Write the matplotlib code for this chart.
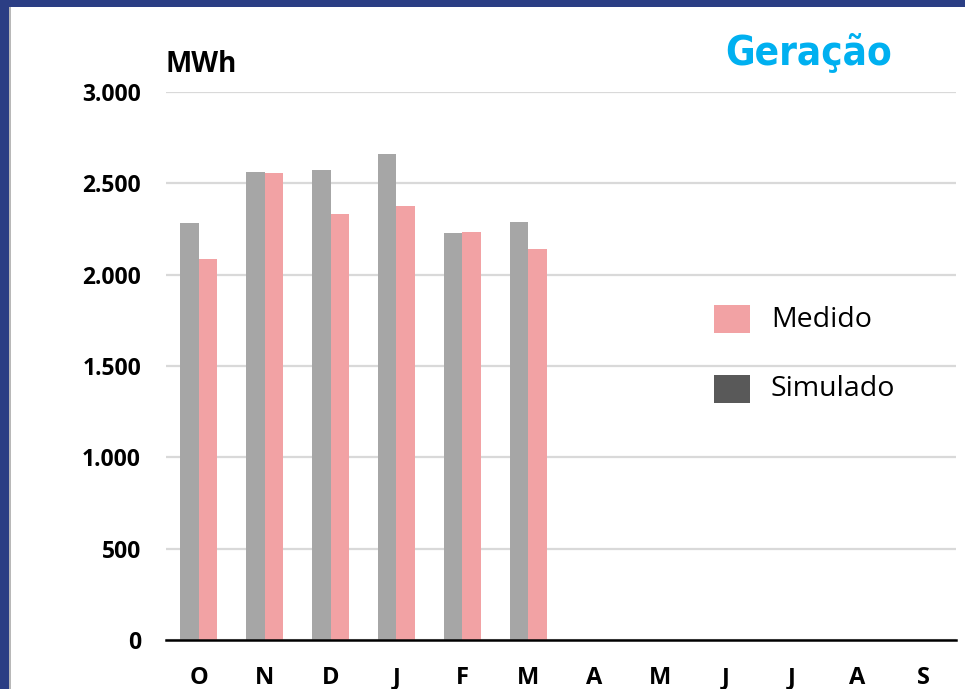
import matplotlib
matplotlib.use("Agg")
import matplotlib.pyplot as plt
from matplotlib.patches import Rectangle
import numpy as np

months = ["O", "N", "D", "J", "F", "M", "A", "M", "J", "J", "A", "S"]
simulado = [2283, 2562, 2571, 2659, 2228, 2286]
medido = [2084, 2558, 2332, 2376, 2232, 2140]
yticks = [0, 500, 1000, 1500, 2000, 2500, 3000]
ytick_labels = ["0", "500", "1.000", "1.500", "2.000", "2.500", "3.000"]

GRAY = "#A6A6A6"
PINK = "#F2A2A4"
DARK = "#595959"
BLUE = "#2B3E84"
CYAN = "#00B0F0"

W, H = 965, 689
fig = plt.figure(figsize=(W / 100, H / 100), dpi=100)
fig.patch.set_facecolor("white")

# frame decoration (blue border top and left)
fig.add_artist(Rectangle((0, 1 - 7 / H), 1, 7 / H, transform=fig.transFigure,
                         facecolor=BLUE, edgecolor="none"))
fig.add_artist(Rectangle((0, 0), 9 / W, 1, transform=fig.transFigure,
                         facecolor=BLUE, edgecolor="none"))
fig.add_artist(Rectangle((9 / W, 0), 2 / W, 1 - 7 / H, transform=fig.transFigure,
                         facecolor="#B8B8B8", edgecolor="none"))

ax = fig.add_axes([166 / W, 1 - 640 / H, (956 - 166) / W, (640 - 92) / H])
x = np.arange(len(months))
w = 0.28
n = len(simulado)
ax.bar(x[:n] - w / 2, simulado, width=w, color=GRAY, zorder=3)
ax.bar(x[:n] + w / 2, medido, width=w, color=PINK, zorder=3)

ax.set_xlim(-0.5, len(months) - 0.5)
ax.set_ylim(0, 3000)
ax.set_yticks(yticks)
ax.set_yticklabels(ytick_labels, fontfamily="Open Sans", fontweight="bold", fontsize=16.5)
ax.set_xticks(x)
ax.set_xticklabels(months, fontfamily="Open Sans", fontweight="bold", fontsize=17)
ax.tick_params(axis="y", length=0, pad=18)
ax.tick_params(axis="x", length=0, pad=19)
ax.grid(axis="y", color="#D9D9D9", linewidth=1.6, zorder=0)
for s in ["top", "right", "left"]:
    ax.spines[s].set_visible(False)
ax.spines["bottom"].set_color("black")
ax.spines["bottom"].set_linewidth(1.8)
ax.spines["bottom"].set_zorder(4)

fig.text(166 / W, 1 - 65 / H, "MWh", fontfamily="Open Sans", fontweight="bold",
         fontsize=20, va="center", ha="left")
fig.text(892 / W, 1 - 53 / H, "Geração", fontfamily="DejaVu Sans", fontstretch="condensed",
         fontweight="bold", fontsize=29, color=CYAN, va="center", ha="right")

# legend
fig.add_artist(Rectangle((714 / W, 1 - 333 / H), 36 / W, 28 / H, transform=fig.transFigure,
                         facecolor=PINK, edgecolor="none"))
fig.add_artist(Rectangle((714 / W, 1 - 403 / H), 36 / W, 28 / H, transform=fig.transFigure,
                         facecolor=DARK, edgecolor="none"))
fig.text(771 / W, 1 - 320 / H, "Medido", fontfamily="Open Sans", fontsize=20.5, va="center", ha="left")
fig.text(771 / W, 1 - 389 / H, "Simulado", fontfamily="Open Sans", fontsize=20.5, va="center", ha="left")

fig.savefig("out.png", dpi=100)
